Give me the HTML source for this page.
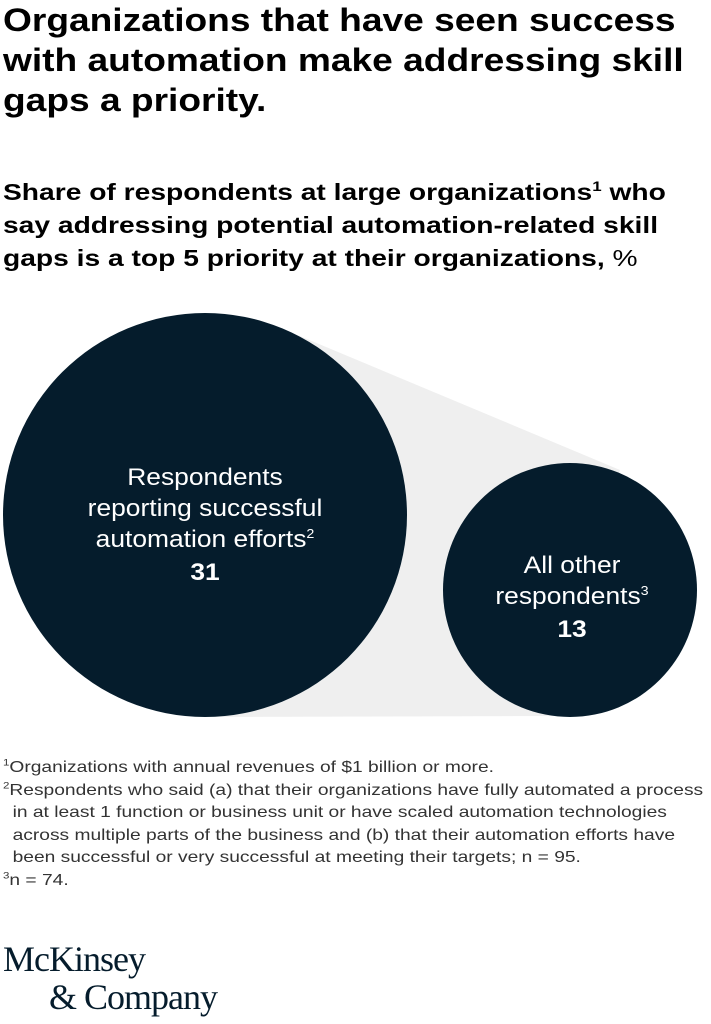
<!DOCTYPE html>
<html><head><meta charset="utf-8"><style>
body{margin:0;width:711px;height:1024px;background:#fff;font-family:"Liberation Sans",sans-serif;color:#000;position:relative;overflow:hidden}
.t{position:absolute;left:3px;top:0;font-weight:bold;font-size:32px;line-height:40px;transform:scaleX(1.16);transform-origin:0 0;white-space:nowrap}
.s{position:absolute;left:3px;top:176px;font-weight:bold;font-size:23.5px;line-height:33px;transform:scaleX(1.2);transform-origin:0 0;white-space:nowrap}
.f{position:absolute;left:3px;top:757px;font-size:16px;line-height:22.5px;color:#333;transform:scaleX(1.2);transform-origin:0 0;white-space:nowrap}
.f div{padding-left:8px}
.f div.n{padding-left:0}
sup{font-size:60%;line-height:0}
.logo{position:absolute;left:3px;top:940px;font-family:"Liberation Serif",serif;font-size:36px;line-height:38px;color:#051c2c;letter-spacing:-1px}
</style></head><body>
<div class="t">Organizations that have seen success<br>with automation make addressing skill<br>gaps a priority.</div>
<div class="s">Share of respondents at large organizations<sup>1</sup> who<br>say addressing potential automation-related skill<br>gaps is a top 5 priority at their organizations, <span style="font-weight:normal">%</span></div>
<svg style="position:absolute;left:0;top:0" width="711" height="1024">
<polygon points="283,329 620,470 570,588 570,716 205,717 205,515" fill="#efefef"/>
<circle cx="205" cy="515" r="202" fill="#051c2c"/>
<circle cx="570" cy="590" r="127" fill="#051c2c"/>
<g fill="#fff" font-family="Liberation Sans,sans-serif" font-size="24" text-anchor="middle">
<g transform="translate(205,0) scale(1.1,1)">
<text x="0" y="485">Respondents</text>
<text x="0" y="516">reporting successful</text>
<text x="0" y="547">automation efforts<tspan font-size="13" dy="-9">2</tspan></text>
<text x="0" y="580" font-weight="bold">31</text>
</g>
<g transform="translate(572,0) scale(1.1,1)">
<text x="0" y="573">All other</text>
<text x="0" y="604">respondents<tspan font-size="13" dy="-9">3</tspan></text>
<text x="0" y="637" font-weight="bold">13</text>
</g>
</g></svg>
<div class="f"><div class="n"><sup>1</sup>Organizations with annual revenues of $1 billion or more.</div>
<div class="n"><sup>2</sup>Respondents who said (a) that their organizations have fully automated a process</div>
<div>in at least 1 function or business unit or have scaled automation technologies</div>
<div>across multiple parts of the business and (b) that their automation efforts have</div>
<div>been successful or very successful at meeting their targets; n = 95.</div>
<div class="n"><sup>3</sup>n = 74.</div></div>
<div class="logo">McKinsey<br><span style="padding-left:46px">&amp; Company</span></div>
</body></html>
